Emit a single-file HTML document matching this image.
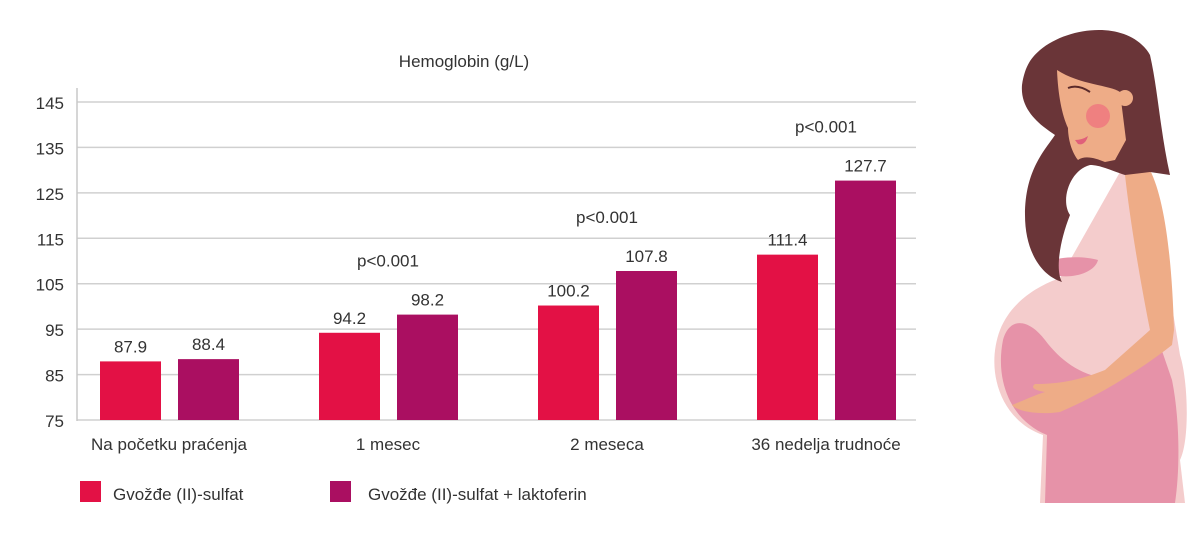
<!DOCTYPE html>
<html><head><meta charset="utf-8"><style>
html,body{margin:0;padding:0;background:#fff;}
svg{display:block;font-family:"Liberation Sans",sans-serif;}
text{fill:#333;font-size:17px;}
</style></head><body>
<svg id="chart" width="1200" height="550" viewBox="0 0 1200 550">
<text x="464" y="67" text-anchor="middle">Hemoglobin (g/L)</text>
<g id="grid"></g><g id="bars"></g><g id="labels"></g>
<g>
 <rect x="80" y="481" width="21" height="21" fill="#e31145"/>
 <text x="113" y="500">Gvožđe (II)-sulfat</text>
 <rect x="330" y="481" width="21" height="21" fill="#aa0f61"/>
 <text x="368" y="500">Gvožđe (II)-sulfat + laktoferin</text>
</g>
<g>
 <path d="M1040,503 L1043,435 C1000,420 985,370 1000,330 C1012,300 1040,285 1060,278 L1120,172 L1150,172 L1180,355 C1188,380 1190,440 1180,460 L1185,503 Z" fill="#f4cccc"/>
 <path d="M1045,503 L1047,435 C1010,420 995,380 1003,340 C1010,315 1030,320 1045,340 C1060,360 1080,375 1105,378 L1160,345 L1172,380 C1180,420 1180,470 1175,503 Z" fill="#e692a8"/>
 <path d="M1048,262 C1060,256 1085,256 1098,260 C1095,272 1075,278 1060,276 C1052,274 1048,268 1048,262 Z" fill="#e692a8"/>
 <path d="M1125,175 L1150,170 C1165,200 1172,260 1174,330 L1172,345 C1140,370 1100,395 1060,412 C1040,415 1018,412 1012,405 C1025,400 1035,395 1045,392 C1035,390 1030,388 1035,384 C1060,384 1080,380 1105,370 L1150,330 C1140,280 1130,220 1125,175 Z" fill="#eeac87"/>
 <path d="M1040,50 C1070,25 1130,20 1150,55 C1158,90 1160,130 1170,175 L1150,172 L1125,175 C1110,170 1100,165 1090,165 C1070,170 1060,200 1070,215 C1060,240 1055,270 1062,282 C1040,275 1025,250 1025,215 C1025,170 1045,150 1055,135 C1040,125 1020,110 1022,85 C1025,65 1032,57 1040,50 Z" fill="#6a3538"/>
 <path d="M1057,70 C1080,85 1110,85 1120,92 L1126,140 L1115,160 L1105,162 C1095,158 1085,155 1078,160 C1070,150 1068,135 1068,128 C1062,115 1058,95 1057,70 Z" fill="#eeac87"/>
 <circle cx="1125" cy="98" r="8" fill="#eeac87"/>
 <circle cx="1098" cy="116" r="12" fill="#ef8080"/>
 <path d="M1068,88 Q1078,84 1090,92" stroke="#5a2a2a" stroke-width="2" fill="none"/>
 <path d="M1075,140 Q1082,140 1088,136 Q1085,146 1078,144 Z" fill="#e0607a"/>
</g>
<script>
var categories=["Na početku praćenja","1 mesec","2 meseca","36 nedelja trudnoće"];
var sulfat=[87.9,94.2,100.2,111.4];
var laktoferin=[88.4,98.2,107.8,127.7];
var pLabels=["","p<0.001","p<0.001","p<0.001"];
var ticks=[75,85,95,105,115,125,135,145];
var NS="http://www.w3.org/2000/svg";
function y(v){return 420-(v-75)*(318/70);}
function gx(i){return 100+i*219;}
function mk(tag,attrs,parent,txt){var e=document.createElementNS(NS,tag);for(var k in attrs)e.setAttribute(k,attrs[k]);if(txt!==undefined)e.textContent=txt;parent.appendChild(e);return e;}
var grid=document.getElementById('grid'),bars=document.getElementById('bars'),labels=document.getElementById('labels');
ticks.forEach(function(t){
 var l=mk('line',{x1:77,x2:916,y1:y(t),y2:y(t),stroke:'#d0d0d0','stroke-width':1.5},grid);
 
 
 var tx=mk('text',{x:64,y:y(t)+7,'text-anchor':'end','font-size':'19'},grid,t);
 
 
});
var ax=mk('line',{x1:77,x2:77,y1:88,y2:421,stroke:'#c8c8c8','stroke-width':1.5},grid);


categories.forEach(function(c,i){
 var x0=gx(i);
 [[sulfat[i],'#e31145',x0,'sulfat'],[laktoferin[i],'#aa0f61',x0+78,'laktoferin']].forEach(function(s){
  var r=mk('rect',{x:s[2],y:y(s[0]),width:61,height:420-y(s[0]),fill:s[1]},bars);
  
  
  var t=mk('text',{x:s[2]+30.5,y:y(s[0])-9,'text-anchor':'middle'},labels,s[0].toFixed(1));
  
  
 });
 var cl=mk('text',{x:x0+69,y:450,'text-anchor':'middle'},labels,c);
 
 
 if(pLabels[i]){
  var m=Math.max(sulfat[i],laktoferin[i]);
  var p=mk('text',{x:x0+69,y:y(m)-48,'text-anchor':'middle'},labels,pLabels[i]);
  
  
 }
});
</script>
</svg>
</body></html>
